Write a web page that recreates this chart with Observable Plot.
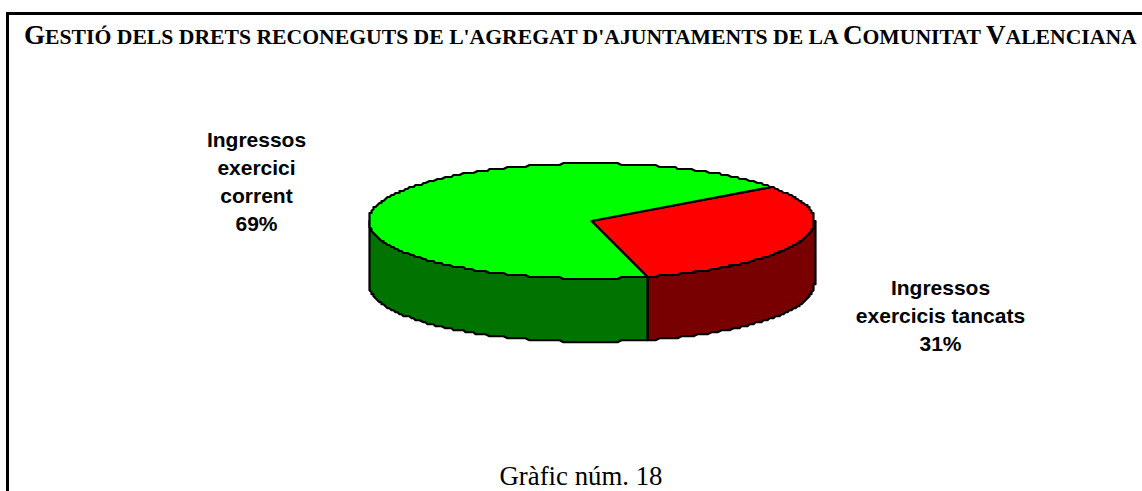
<!DOCTYPE html>
<html><head><meta charset="utf-8">
<script src="https://cdn.jsdelivr.net/npm/d3@7"></script>
<script src="https://cdn.jsdelivr.net/npm/@observablehq/plot@0.6"></script>
<style>
html,body{margin:0;padding:0;background:#fff;overflow:hidden}
#page{position:relative;width:1142px;height:491px;box-sizing:border-box;overflow:hidden}
#frame{position:absolute;left:6px;top:12px;right:-10px;bottom:-10px;border:3px solid #000;box-sizing:border-box}
h1{position:absolute;left:24px;top:20px;margin:0;white-space:nowrap;font:bold 27.1px "Liberation Serif",serif;color:#000}
h1 span{font-size:.8em;text-transform:uppercase}
#chart{position:absolute;left:0;top:70px}
#cap{position:absolute;left:0;width:1162px;top:462px;text-align:center;font:26.8px/29px "Liberation Serif",serif;color:#000}
svg{display:block}
</style></head><body>
<div id="page">
<div id="frame"></div>
<h1 id="title"></h1>
<div id="chart"></div>
<div id="cap"></div>
</div>
<script>
const titleText = "Gestió dels drets reconeguts de l'agregat d'ajuntaments de la Comunitat Valenciana";
const captionText = "Gràfic núm. 18";
const categories = ["Ingressos\nexercicis tancats", "Ingressos\nexercici\ncorrent"];
const shares = [31, 69];
const topColors = ["#ff0000", "#00ff00"];
const sideColors = ["#780000", "#007300"];
const labelOffsets = [[139, 73], [-125, -21]];

const startAngle = 53.8;      // clockwise from 12 o'clock, where the first slice begins
const depth = 1.1;            // wall height in units of the vertical radius
const H = 370, W = 1142;
const rx = 223, ry = 57.5, cx = 591, cy = 150.5;
const gridX = 2 / rx, gridY = 2 / ry; // the outline follows a coarse pixel grid, as in the source picture

const rad = a => a * Math.PI / 180;
const snap = (v, g) => Math.round(v / g) * g;
const rim = (a, dy = 0) => ({x: snap(Math.sin(rad(a)), gridX), y: snap(-Math.cos(rad(a)), gridY) + dy});
const arc = (a0, a1, dy = 0) => {
  const n = Math.max(2, Math.ceil(Math.abs(a1 - a0)));
  return d3.range(n + 1).map(i => rim(a0 + (a1 - a0) * i / n, dy));
};

let a = startAngle;
const slices = shares.map((v, i) => {
  const s = {i, a0: a, a1: a + v * 3.6, mid: a + v * 1.8};
  a = s.a1;
  return s;
});

const topFace = s => [{x: 0, y: 0}, ...arc(s.a0, s.a1)];
const wall = s => {
  const lo = Math.max(s.a0, 90), hi = Math.min(s.a1, 270);
  return [...arc(lo, hi), ...arc(hi, lo, depth)];
};
const face = (pts, fill) => Plot.line(pts, {
  x: "x", y: "y", fill, stroke: "#000", strokeWidth: 2.2,
  curve: "linear-closed", strokeLinejoin: "round"
});

const chart = Plot.plot({
  width: W, height: H, margin: 0,
  style: {background: "transparent", overflow: "visible"},
  x: {axis: null, domain: [-cx / rx, (W - cx) / rx], range: [0, W]},
  y: {axis: null, domain: [-cy / ry, (H - cy) / ry], range: [0, H]},
  marks: [
    ...slices.map(s => face(wall(s), sideColors[s.i])),
    ...slices.map(s => face(topFace(s), topColors[s.i])),
    ...slices.map(s => Plot.text([`${categories[s.i]}\n${shares[s.i]}%`], {
      x: rim(s.mid).x, y: rim(s.mid).y,
      dx: labelOffsets[s.i][0], dy: labelOffsets[s.i][1],
      text: d => d, textAnchor: "middle", lineHeight: 1.34,
      fontFamily: "Liberation Sans, sans-serif", fontWeight: "bold", fontSize: 21, fill: "#000"
    }))
  ]
});
document.getElementById("chart").append(chart);
const h1 = document.getElementById("title");
titleText.split(/(?<=[A-ZÀ-Ý])|(?=[A-ZÀ-Ý])/).forEach(part => {
  if (/^[A-ZÀ-Ý]$/.test(part)) h1.append(part);
  else { const s = document.createElement("span"); s.textContent = part; h1.append(s); }
});
document.getElementById("cap").textContent = captionText;
</script>
</body></html>
